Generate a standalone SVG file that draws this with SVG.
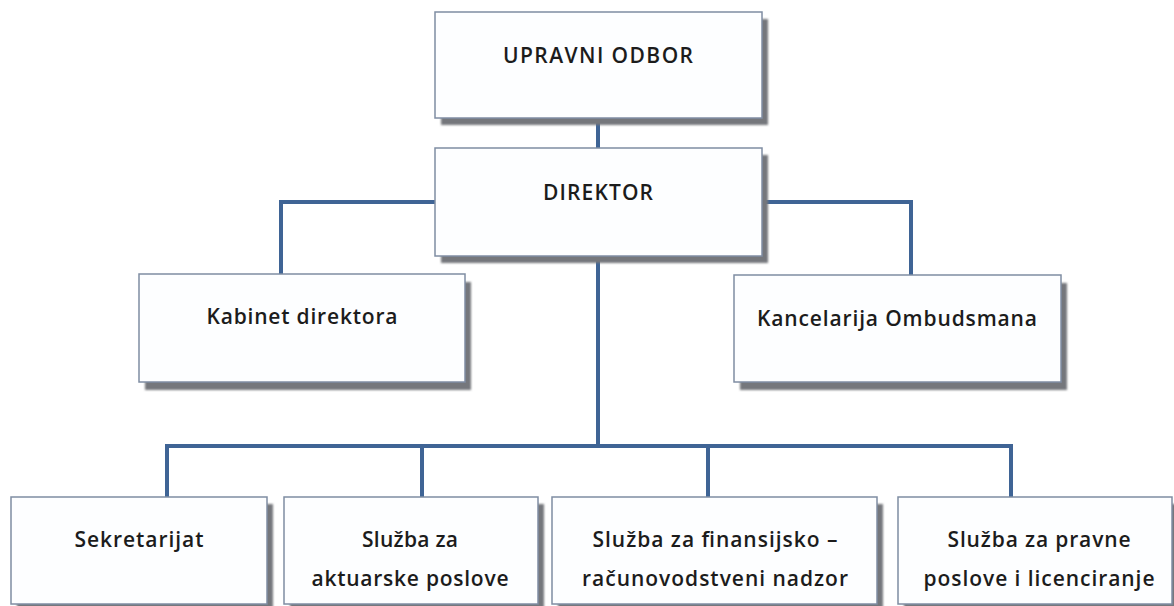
<svg xmlns="http://www.w3.org/2000/svg" width="1174" height="606" viewBox="0 0 1174 606">
<defs>
<filter id="blur" x="-5%" y="-5%" width="110%" height="120%"><feGaussianBlur stdDeviation="0.8"/></filter>
</defs>
<style>
.sh{fill:#75777c;filter:url(#blur)}
.bx{fill:#fdfeff;stroke:#7f8da3;stroke-width:1.5}
.t{font-family:"Open Sans","Noto Sans",sans-serif;font-size:21px;font-weight:600;fill:#1c1c1c;text-anchor:middle}
.c{fill:none;stroke:#3f6495;stroke-width:4;stroke-linecap:square;stroke-linejoin:miter}
</style>
<rect width="1174" height="606" fill="#fff"/>
<g id="connectors">
<path class="c" d="M598 118V148"/>
<path class="c" d="M435 202H281V274"/>
<path class="c" d="M762 202H911V275"/>
<path class="c" d="M598 256V446"/>
<path class="c" d="M167 497V446H1011V497"/>
<path class="c" d="M422 446V497"/>
<path class="c" d="M708 446V497"/>
</g>
<g id="upravni">
<rect class="sh" x="441" y="19" width="327" height="106"/>
<rect class="bx" x="435" y="12" width="327" height="106"/>
<text class="t" x="598" y="63" textLength="190" lengthAdjust="spacing">UPRAVNI ODBOR</text>
</g>
<g id="direktor">
<rect class="sh" x="441" y="155" width="327" height="108"/>
<rect class="bx" x="435" y="148" width="327" height="108"/>
<text class="t" x="598" y="200" textLength="110" lengthAdjust="spacing">DIREKTOR</text>
</g>
<g id="kabinet">
<rect class="sh" x="145" y="282" width="326" height="108"/>
<rect class="bx" x="139" y="274" width="326" height="108"/>
<text class="t" x="302" y="324" textLength="191" lengthAdjust="spacing">Kabinet direktora</text>
</g>
<g id="kancelarija">
<rect class="sh" x="740" y="283" width="327" height="107"/>
<rect class="bx" x="734" y="275" width="327" height="107"/>
<text class="t" x="897" y="326" textLength="280" lengthAdjust="spacing">Kancelarija Ombudsmana</text>
</g>
<g id="sekretarijat">
<rect class="sh" x="17" y="504" width="256" height="107"/>
<rect class="bx" x="11" y="497" width="256" height="107"/>
<text class="t" x="139" y="547" textLength="129" lengthAdjust="spacing">Sekretarijat</text>
</g>
<g id="aktuarske">
<rect class="sh" x="290" y="504" width="254" height="107"/>
<rect class="bx" x="284" y="497" width="254" height="107"/>
<text class="t" x="410" y="547" textLength="96" lengthAdjust="spacing">Služba za</text>
<text class="t" x="410" y="586" textLength="197" lengthAdjust="spacing">aktuarske poslove</text>
</g>
<g id="finansijsko">
<rect class="sh" x="558" y="504" width="325" height="107"/>
<rect class="bx" x="552" y="497" width="325" height="107"/>
<text class="t" x="715" y="547" textLength="245" lengthAdjust="spacing">Služba za finansijsko –</text>
<text class="t" x="715" y="586" textLength="266" lengthAdjust="spacing">računovodstveni nadzor</text>
</g>
<g id="pravne">
<rect class="sh" x="904" y="504" width="274" height="107"/>
<rect class="bx" x="898" y="497" width="274" height="107"/>
<text class="t" x="1039" y="547" textLength="183" lengthAdjust="spacing">Služba za pravne</text>
<text class="t" x="1039" y="586" textLength="231" lengthAdjust="spacing">poslove i licenciranje</text>
</g>
</svg>
